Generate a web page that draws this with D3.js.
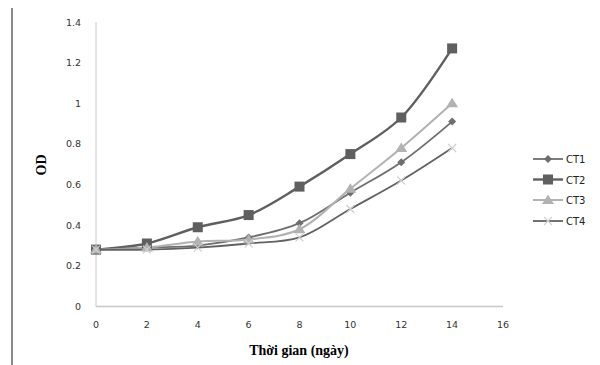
<!DOCTYPE html>
<html>
<head>
<meta charset="utf-8">
<script src="https://cdn.jsdelivr.net/npm/d3@7"></script>
<style>
  body { margin: 0; background: #fff; }
  text { font-family: "DejaVu Sans", sans-serif; }
</style>
</head>
<body>
<svg width="600" height="365"></svg>
<script>
// data
const days = [0, 2, 4, 6, 8, 10, 12, 14];
const seriesNames = ["CT1", "CT2", "CT3", "CT4"];
const ct1 = [0.28, 0.29, 0.30, 0.34, 0.41, 0.56, 0.71, 0.91];
const ct2 = [0.28, 0.31, 0.39, 0.45, 0.59, 0.75, 0.93, 1.27];
const ct3 = [0.28, 0.29, 0.32, 0.33, 0.38, 0.58, 0.78, 1.00];
const ct4 = [0.28, 0.28, 0.29, 0.31, 0.34, 0.48, 0.62, 0.78];
const xTicks = [0, 2, 4, 6, 8, 10, 12, 14, 16];
const yTicks = [0, 0.2, 0.4, 0.6, 0.8, 1, 1.2, 1.4];

var svg = d3.select("svg");

// frame line at the left of the picture
svg.append("line")
    .attr("x1", 12).attr("x2", 12)
    .attr("y1", 8).attr("y2", 365)
    .attr("stroke", "#8a8a8a")
    .attr("stroke-width", 2);

var x = d3.scaleLinear().domain([0, 16]).range([96, 503]);
var y = d3.scaleLinear().domain([0, 1.4]).range([306.5, 22]);

// axis lines
svg.append("line")
    .attr("x1", x(0)).attr("x2", x(0))
    .attr("y1", y(1.4)).attr("y2", y(0))
    .attr("stroke", "#c8c8c8");
svg.append("line")
    .attr("x1", x(0)).attr("x2", x(16))
    .attr("y1", y(0)).attr("y2", y(0))
    .attr("stroke", "#c8c8c8")
    .attr("stroke-width", 1.5);

// tick labels
svg.append("g").selectAll("text")
    .data(yTicks)
    .enter().append("text")
    .attr("x", 81)
    .attr("y", d => y(d) + 3.5)
    .attr("text-anchor", "end")
    .attr("font-size", 9.5)
    .attr("fill", "#333")
    .text(d => d);

svg.append("g").selectAll("text")
    .data(xTicks)
    .enter().append("text")
    .attr("x", d => x(d))
    .attr("y", 328)
    .attr("text-anchor", "middle")
    .attr("font-size", 9.5)
    .attr("fill", "#333")
    .text(d => d);

// axis titles
svg.append("text")
    .attr("transform", "translate(46,165) rotate(-90)")
    .attr("text-anchor", "middle")
    .style("font-family", "'Liberation Serif', serif")
    .attr("font-weight", "bold")
    .attr("font-size", 14)
    .text("OD");

svg.append("text")
    .attr("x", 299)
    .attr("y", 355)
    .attr("text-anchor", "middle")
    .style("font-family", "'Liberation Serif', serif")
    .attr("font-weight", "bold")
    .attr("font-size", 14)
    .text("Thời gian (ngày)");

// series styles
const series = [
    { name: seriesNames[0], values: ct1, color: "#6e6e6e", width: 1.8, marker: "diamond", size: 5 },
    { name: seriesNames[1], values: ct2, color: "#5f5f5f", width: 2.4, marker: "square", size: 10 },
    { name: seriesNames[2], values: ct3, color: "#b2b2b2", width: 2, marker: "triangle", size: 10 },
    { name: seriesNames[3], values: ct4, color: "#626262", width: 1.8, marker: "x", size: 10 }
];

var line = d3.line()
    .x((d, i) => x(days[i]))
    .y(d => y(d))
    .curve(d3.curveCatmullRom.alpha(0.5));

function drawMarker(g, s, cx, cy, legend) {
    if (s.marker === "square") {
        g.append("rect")
            .attr("x", cx - 5).attr("y", cy - 5)
            .attr("width", 10).attr("height", 10)
            .attr("fill", s.color);
    } else if (s.marker === "diamond") {
        g.append("path")
            .attr("d", `M${cx},${cy - 4}L${cx + 4},${cy}L${cx},${cy + 4}L${cx - 4},${cy}Z`)
            .attr("fill", s.color);
    } else if (s.marker === "triangle") {
        g.append("path")
            .attr("d", `M${cx},${cy - 5.5}L${cx + 6},${cy + 4}L${cx - 6},${cy + 4}Z`)
            .attr("fill", s.color);
    } else {
        g.append("path")
            .attr("d", `M${cx - 4},${cy - 4}L${cx + 4},${cy + 4}M${cx - 4},${cy + 4}L${cx + 4},${cy - 4}`)
            .attr("stroke", "#d0d0d0")
            .attr("stroke-width", 1.2)
            .attr("fill", "none");
    }
}

var plot = svg.append("g");
series.forEach(function (s) {
    plot.append("path")
        .datum(s.values)
        .attr("fill", "none")
        .attr("stroke", s.color)
        .attr("stroke-width", s.width)
        .attr("d", line);
});
series.forEach(function (s) {
    s.values.forEach(function (v, i) {
        drawMarker(plot, s, x(days[i]), y(v));
    });
});

// legend
const legendRows = [159, 179.5, 200, 221];
var legend = svg.append("g");
series.forEach(function (s, i) {
    var ly = legendRows[i];
    legend.append("line")
        .attr("x1", 533).attr("x2", 563)
        .attr("y1", ly).attr("y2", ly)
        .attr("stroke", s.color)
        .attr("stroke-width", s.width);
    drawMarker(legend, s, 548, ly);
    legend.append("text")
        .attr("x", 566)
        .attr("y", ly + 4)
        .attr("font-size", 10)
        .attr("fill", "#222")
        .text(s.name);
});
</script>
</body>
</html>
